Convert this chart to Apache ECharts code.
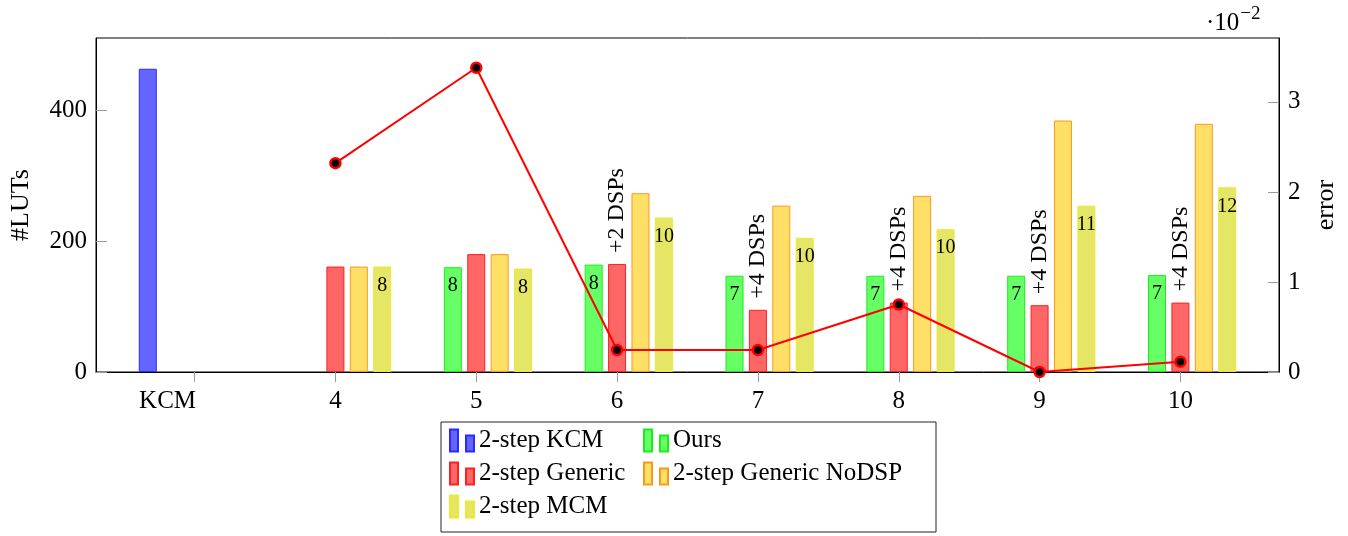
<!DOCTYPE html>
<html lang="en">
<head>
    <meta charset="UTF-8">
    <title>#LUTs and error</title>
    <script src="https://cdn.jsdelivr.net/npm/echarts@6/dist/echarts.min.js"></script>
    <style>
        * { margin: 0; padding: 0; box-sizing: border-box; }
        body { background: #fff; }
        #chart { width: 1348px; height: 536px; }
    </style>
</head>
<body>
    <div id="chart"></div>

    <script>
        // data
        const categories = ['KCM', '4', '5', '6', '7', '8', '9', '10'];
        const firstX = 3; // KCM sits at x = 3, then 4 .. 10

        const kcmLuts     = [463, null, null, null, null, null, null, null];
        const oursLuts    = [null, null, 160, 164, 147, 147, 147, 148];
        const genericLuts = [null, 161, 180, 165, 95, 106, 102, 106];
        const nodspLuts   = [null, 161, 180, 273, 254, 269, 384, 379];
        const mcmLuts     = [null, 161, 158, 236, 205, 218, 254, 282];

        const oursNotes    = ['', '', '8', '8', '7', '7', '7', '7'];
        const genericNotes = ['', '', '', '+2 DSPs', '+4 DSPs', '+4 DSPs', '+4 DSPs', '+4 DSPs'];
        const mcmNotes     = ['', '8', '8', '10', '10', '10', '11', '12'];

        // error, in units of 10^-2
        const errorVals = [null, 2.32, 3.38, 0.244, 0.244, 0.75, 0, 0.114];

        const lutTicks = [0, 200, 400];
        const errTicks = [0, 1, 2, 3];

        const FONT = 'Liberation Serif';

        function pairs(vals, notes) {
            const out = [];
            vals.forEach(function (v, i) {
                if (v === null) return;
                out.push({ value: [firstX + i, v], note: notes ? notes[i] : '' });
            });
            return out;
        }

        const tickPos = categories.map(function (c, i) { return firstX + i; });

        function barSeries(name, vals, fill, stroke, label, notes) {
            return {
                name: name,
                type: 'bar',
                barWidth: 18,
                barGap: '30%',
                data: pairs(vals, notes),
                itemStyle: { color: fill, borderColor: stroke, borderWidth: 1 },
                label: label,
                z: 2
            };
        }

        const numLabel = {
            show: true,
            position: 'insideTop',
            distance: 9,
            fontFamily: FONT,
            fontSize: 20,
            color: '#000',
            formatter: function (p) { return p.data.note; }
        };

        const dspLabel = {
            show: true,
            position: 'top',
            rotate: 90,
            align: 'left',
            verticalAlign: 'middle',
            distance: 11,
            fontFamily: FONT,
            fontSize: 24,
            color: '#000',
            formatter: function (p) { return p.data.note; }
        };

        const legendIcon = 'path://M0,0h8v22h-8zM16,6h8v16h-8z';
        function oneLegend(name, left, top) {
            return {
                data: [name],
                left: left,
                top: top,
                padding: 0,
                icon: legendIcon,
                itemWidth: 24,
                itemHeight: 22,
                selectedMode: false,
                textStyle: { fontFamily: FONT, fontSize: 25, color: '#000' }
            };
        }

        const chart = echarts.init(document.getElementById('chart'));
        chart.setOption({
            animation: false,
            grid: {
                left: 96, right: 69, top: 38, bottom: 164,
                show: true, borderColor: '#000', borderWidth: 1
            },
            legend: [
                oneLegend('2-step KCM', 449, 428),
                oneLegend('Ours', 643, 428),
                oneLegend('2-step Generic', 449, 461),
                oneLegend('2-step Generic NoDSP', 643, 461),
                oneLegend('2-step MCM', 449, 494)
            ],
            graphic: [
                {
                    type: 'rect',
                    shape: { x: 441, y: 422, width: 495, height: 110 },
                    style: { fill: 'none', stroke: '#222', lineWidth: 1 },
                    silent: true
                },
                {
                    type: 'text',
                    left: 1206,
                    top: 5,
                    style: {
                        text: '{a|·10}{b|−2}',
                        rich: {
                            a: { fontFamily: FONT, fontSize: 25, color: '#000', verticalAlign: 'bottom' },
                            b: { fontFamily: FONT, fontSize: 19, color: '#000', verticalAlign: 'top', padding: [0, 0, 12, 1] }
                        }
                    }
                }
            ],
            xAxis: {
                type: 'value',
                min: 2.3,
                max: 10.7,
                splitLine: { show: false },
                axisLine: { show: true, lineStyle: { color: '#000', width: 1 } },
                axisTick: {
                    show: true, inside: false, length: 10,
                    customValues: tickPos,
                    lineStyle: { color: '#999' }
                },
                axisLabel: {
                    customValues: tickPos,
                    margin: 17,
                    fontFamily: FONT,
                    fontSize: 25,
                    color: '#000',
                    formatter: function (v) {
                        const c = categories[Math.round(v) - firstX];
                        return c === 'KCM' ? '{k|KCM}' : c;
                    },
                    rich: {
                        k: { fontFamily: FONT, fontSize: 25, color: '#000', padding: [0, 54, 0, 0] }
                    }
                }
            },
            yAxis: [
                {
                    type: 'value',
                    min: 0,
                    max: 510,
                    name: '#LUTs',
                    nameLocation: 'middle',
                    nameGap: 62,
                    nameTextStyle: { fontFamily: FONT, fontSize: 26, color: '#000' },
                    splitLine: { show: false },
                    axisLine: { show: true, lineStyle: { color: '#000' } },
                    axisTick: {
                        show: true, inside: true, length: 11,
                        customValues: lutTicks,
                        lineStyle: { color: '#999' }
                    },
                    axisLabel: {
                        customValues: lutTicks,
                        margin: 9,
                        fontFamily: FONT,
                        fontSize: 25,
                        color: '#000'
                    }
                },
                {
                    type: 'value',
                    min: 0,
                    max: 3.71,
                    position: 'right',
                    name: 'error',
                    nameLocation: 'middle',
                    nameGap: 34,
                    nameTextStyle: { fontFamily: FONT, fontSize: 26, color: '#000' },
                    splitLine: { show: false },
                    axisLine: { show: true, lineStyle: { color: '#000' } },
                    axisTick: {
                        show: true, inside: true, length: 11,
                        customValues: errTicks,
                        lineStyle: { color: '#999' }
                    },
                    axisLabel: {
                        customValues: errTicks,
                        margin: 9,
                        fontFamily: FONT,
                        fontSize: 25,
                        color: '#000'
                    }
                }
            ],
            series: [
                barSeries('2-step KCM', kcmLuts, '#6464ff', '#2a2aff', { show: false }),
                barSeries('Ours', oursLuts, '#66ff66', '#1aee1a', numLabel, oursNotes),
                barSeries('2-step Generic', genericLuts, '#ff6666', '#ff2020', dspLabel, genericNotes),
                barSeries('2-step Generic NoDSP', nodspLuts, '#ffe066', '#ff9620', { show: false }),
                barSeries('2-step MCM', mcmLuts, '#e5e566', '#eaea30', numLabel, mcmNotes),
                {
                    name: 'error',
                    type: 'line',
                    yAxisIndex: 1,
                    data: pairs(errorVals),
                    symbol: 'circle',
                    symbolSize: 10,
                    lineStyle: { color: '#ff0000', width: 2 },
                    itemStyle: { color: '#000', borderColor: '#ff0000', borderWidth: 2.5 },
                    z: 10
                }
            ]
        });
    </script>
</body>
</html>
